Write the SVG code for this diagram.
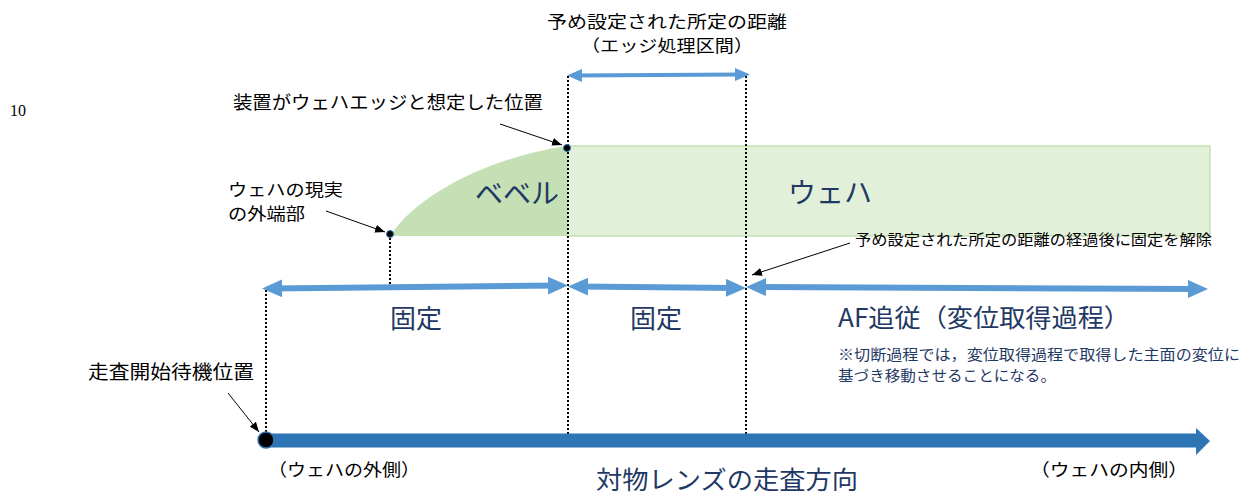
<svg xmlns="http://www.w3.org/2000/svg" width="1250" height="497" viewBox="0 0 1250 497">
<style>
.jp{font-family:"Noto Sans CJK JP","Noto Sans",sans-serif;}
.blk{fill:#000;}
.navy{fill:#1F3864;}
.dot{stroke:#000;stroke-width:2;stroke-dasharray:2 2;fill:none;}
.lb{stroke:#5B9BD5;fill:none;}
.thin{stroke:#000;stroke-width:1;fill:none;marker-end:url(#ah);}
.pt{fill:#000;stroke:#2E75B6;stroke-width:1;}
</style>
<defs>
<marker id="big" markerUnits="userSpaceOnUse" markerWidth="20" markerHeight="18" refX="10" refY="9" orient="auto-start-reverse" viewBox="0 0 20 18"><path d="M0,0 L20,9 L0,18 z" fill="#5B9BD5"/></marker>
<marker id="small" markerUnits="userSpaceOnUse" markerWidth="15" markerHeight="13" refX="7" refY="6.5" orient="auto-start-reverse" viewBox="0 0 15 13"><path d="M0,0 L15,6.5 L0,13 z" fill="#5B9BD5"/></marker>
<marker id="ah" markerUnits="userSpaceOnUse" markerWidth="10" markerHeight="8" refX="10" refY="4" orient="auto" viewBox="0 0 10 8"><path d="M0,0 L10,4 L0,8 z" fill="#000"/></marker>
</defs>

<text x="10" y="116" font-family="Liberation Serif, serif" font-size="16" fill="#000">10</text>

<g id="wafer">
<rect x="567" y="146" width="643" height="90" fill="#E2F0D9" stroke="#C5E0B4" stroke-width="1.5"/>
<text class="jp navy" x="830" y="203" font-size="28" text-anchor="middle">ウェハ</text>
</g>
<g id="bevel">
<path d="M390,236 C420,190 500,155 567,146 L567,236 Z" fill="#C5E0B4"/>
<text class="jp navy" x="517" y="204" font-size="28" text-anchor="middle">ベベル</text>
</g>

<g id="connectors">
<line class="dot" x1="390" y1="238" x2="390" y2="287"/>
<line class="dot" x1="568" y1="76" x2="568" y2="437"/>
<line class="dot" x1="746" y1="76" x2="746" y2="437"/>
<line class="dot" x1="266" y1="290" x2="266" y2="434"/>

<line class="lb" stroke-width="4" x1="575" y1="75.5" x2="742" y2="74.5" marker-start="url(#small)" marker-end="url(#small)"/>
<line class="lb" stroke-width="6" x1="272" y1="288.5" x2="558" y2="285.5" marker-start="url(#big)" marker-end="url(#big)"/>
<line class="lb" stroke-width="6" x1="578" y1="286.5" x2="736" y2="288" marker-start="url(#big)" marker-end="url(#big)"/>
<line class="lb" stroke-width="6" x1="756" y1="287" x2="1198" y2="289" marker-start="url(#big)" marker-end="url(#big)"/>

<path d="M266,433.5 L1196,433.5 L1196,428 L1210,441 L1196,455 L1196,447.5 L266,447.5 Z" fill="#2E75B6"/>

<line class="thin" x1="500" y1="124" x2="562" y2="145"/>
<line class="thin" x1="326" y1="211" x2="385" y2="232"/>
<line class="thin" x1="850" y1="243" x2="752" y2="275"/>
<line class="thin" x1="228" y1="393" x2="259" y2="432"/>
</g>

<g id="points">
<circle class="pt" cx="390" cy="234" r="3.5"/>
<circle class="pt" cx="567" cy="148" r="3.5"/>
<circle cx="266" cy="440" r="8" fill="#000" stroke="#2E75B6" stroke-width="1.5"/>
</g>

<g id="labels">
<text class="jp blk" x="667" y="28" font-size="16.5" text-anchor="middle" textLength="240" lengthAdjust="spacingAndGlyphs">予め設定された所定の距離</text>
<text class="jp blk" x="667" y="52" font-size="16.5" text-anchor="middle" textLength="172" lengthAdjust="spacingAndGlyphs">（エッジ処理区間）</text>
<text class="jp blk" x="233" y="109" font-size="18" textLength="310" lengthAdjust="spacingAndGlyphs">装置がウェハエッジと想定した位置</text>
<text class="jp blk" x="228" y="196" font-size="16.5" textLength="115" lengthAdjust="spacingAndGlyphs">ウェハの現実</text>
<text class="jp blk" x="228" y="220" font-size="16.5" textLength="77" lengthAdjust="spacingAndGlyphs">の外端部</text>
<text class="jp blk" x="855" y="245" font-size="15" textLength="357" lengthAdjust="spacingAndGlyphs">予め設定された所定の距離の経過後に固定を解除</text>
<text class="jp navy" x="416" y="328" font-size="26" text-anchor="middle">固定</text>
<text class="jp navy" x="656" y="328" font-size="26" text-anchor="middle">固定</text>
<text class="jp navy" x="838" y="327" font-size="25" textLength="292" lengthAdjust="spacingAndGlyphs">AF追従（変位取得過程）</text>
<text class="jp navy" x="838" y="360" font-size="14.5" textLength="402" lengthAdjust="spacingAndGlyphs">※切断過程では，変位取得過程で取得した主面の変位に</text>
<text class="jp navy" x="838" y="381" font-size="14.5" textLength="218" lengthAdjust="spacingAndGlyphs">基づき移動させることになる。</text>
<text class="jp blk" x="88" y="379" font-size="19" textLength="166" lengthAdjust="spacingAndGlyphs">走査開始待機位置</text>
<text class="jp blk" x="268" y="476" font-size="17.5" textLength="152" lengthAdjust="spacingAndGlyphs">（ウェハの外側）</text>
<text class="jp blk" x="1030" y="476" font-size="17.5" textLength="158" lengthAdjust="spacingAndGlyphs">（ウェハの内側）</text>
<text class="jp navy" x="727" y="489" font-size="25" text-anchor="middle" textLength="262" lengthAdjust="spacingAndGlyphs">対物レンズの走査方向</text>
</g>
</svg>
